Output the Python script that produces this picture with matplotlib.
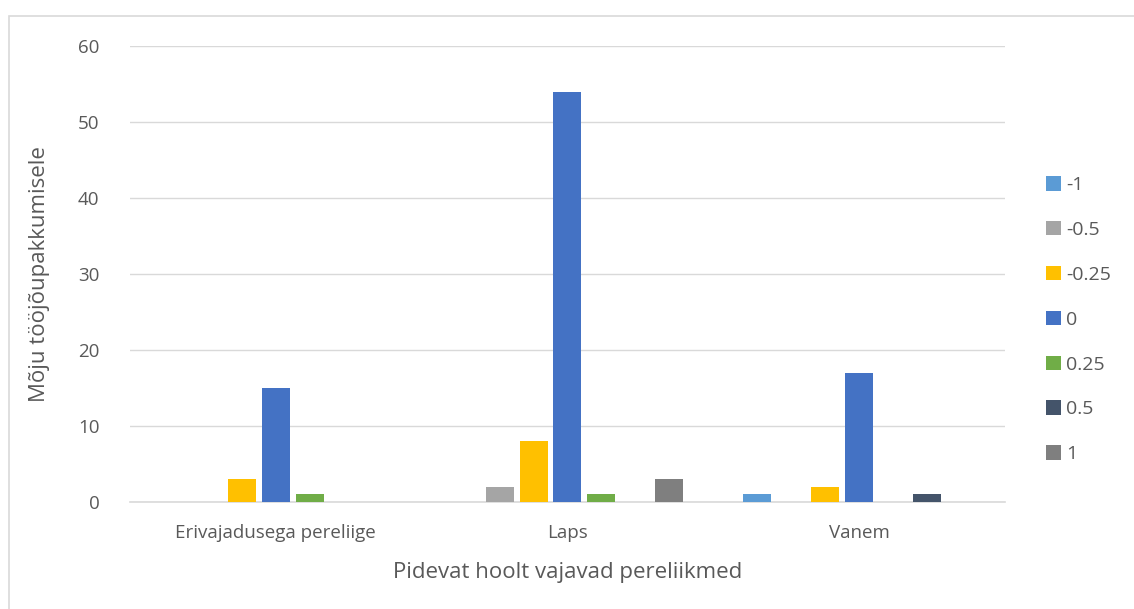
import numpy as np
import matplotlib.pyplot as plt
from matplotlib.patches import Rectangle

categories = ['Erivajadusega pereliige', 'Laps', 'Vanem']
series = ['-1', '-0.5', '-0.25', '0', '0.25', '0.5', '1']
values = {
    '-1':    [0, 0, 1],
    '-0.5':  [0, 2, 0],
    '-0.25': [3, 8, 2],
    '0':     [15, 54, 17],
    '0.25':  [1, 1, 0],
    '0.5':   [0, 0, 1],
    '1':     [0, 3, 0],
}
colors = ['#5B9BD5', '#A5A5A5', '#FFC000', '#4472C4', '#70AD47', '#44546A', '#7F7F7F']

plt.rcParams['font.family'] = ['Open Sans', 'DejaVu Sans']
txt = '#595959'

fig = plt.figure(figsize=(11.34, 6.09), dpi=100)
ax = fig.add_axes([0.1146, 0.1757, 0.7716, 0.7488])

fig.patches.append(Rectangle((9 / 1134, -0.1), 1.2, (609 - 16) / 609 + 0.1,
                             transform=fig.transFigure, fill=False,
                             edgecolor='#D9D9D9', linewidth=1.2))

x = np.arange(len(categories))
step = 0.1164
width = 0.096
handles = []
for i, s in enumerate(series):
    off = (i - 3) * step
    b = ax.bar(x + off, values[s], width, color=colors[i], label=s, zorder=3)
    handles.append(b)

ax.set_xlim(-0.5, 2.5)
ax.set_ylim(0, 60)
ax.set_yticks(range(0, 61, 10))
ax.set_xticks(x)
ax.set_xticklabels(categories)
ax.grid(axis='y', color='#D9D9D9', linewidth=1, zorder=0)
for sp in ['top', 'right', 'left']:
    ax.spines[sp].set_visible(False)
ax.spines['bottom'].set_color('#D9D9D9')
ax.spines['bottom'].set_linewidth(1.2)
ax.tick_params(axis='both', length=0, labelsize=13.5, colors=txt)
ax.tick_params(axis='y', pad=22)
ax.tick_params(axis='x', pad=16)

ax.set_ylabel('Mõju tööjõupakkumisele', fontsize=16, color=txt, labelpad=20)
ax.set_xlabel('Pidevat hoolt vajavad pereliikmed', fontsize=16, color=txt, labelpad=14)

fig.legend(handles=handles, labels=series, loc='center left',
           bbox_to_anchor=(0.907, 0.475), frameon=False, fontsize=14,
           labelcolor=txt, handlelength=0.75, handleheight=0.75,
           handletextpad=0.3, labelspacing=1.38)

fig.savefig('out.png', dpi=100)
